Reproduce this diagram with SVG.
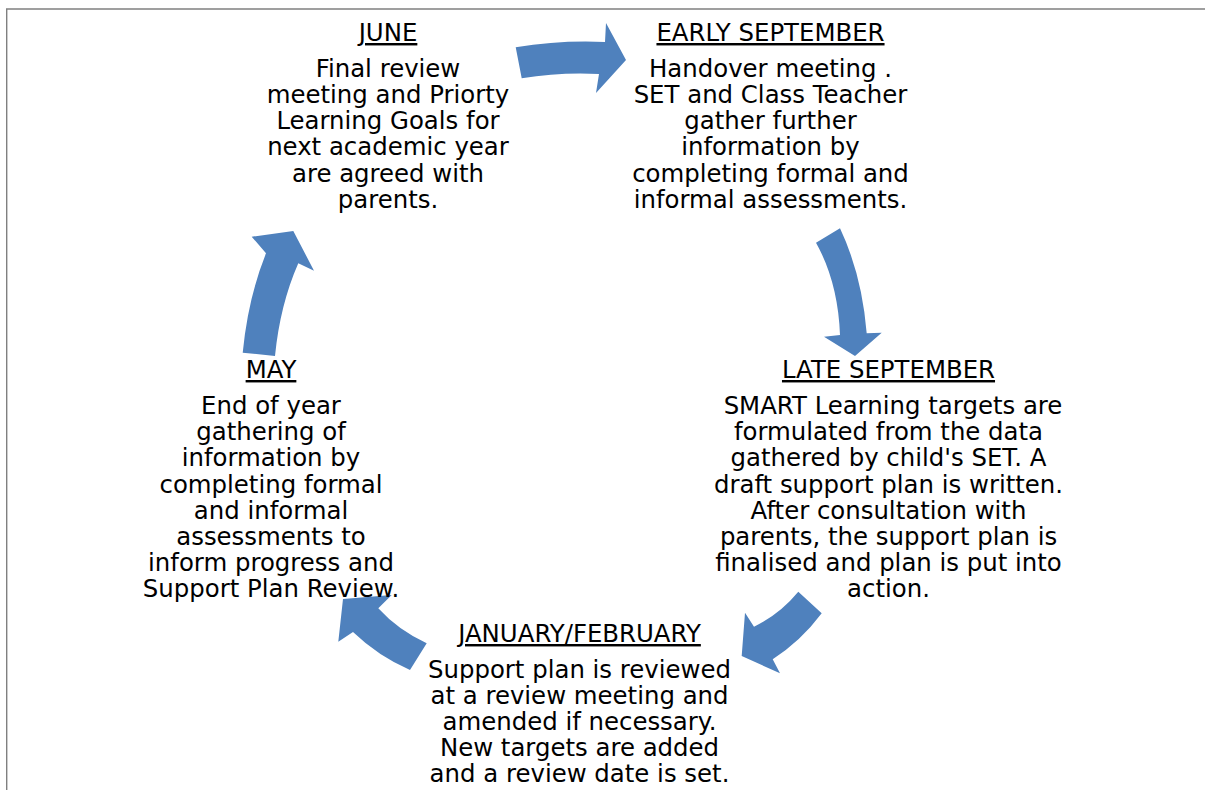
<svg xmlns="http://www.w3.org/2000/svg" width="1205" height="790" viewBox="0 0 1205 790">
  <style>
    text { font-family: "DejaVu Sans", Verdana, sans-serif; font-size: 24.4px; fill: #000; text-anchor: middle; }
    .title { text-decoration: underline; }
    .arrow { fill: #4F81BD; stroke: none; }
    .frame { stroke: #808080; stroke-width: 1.4; fill: none; }
  </style>
  <rect width="1205" height="790" fill="#fff"/>
  <path class="frame" d="M6.7,790 V9 H1205"/>

  <!-- cycle arrows -->
  <g id="connectors">
    <path class="arrow" d="M515.7,47.3 Q560,40 605,42 L606,23 L626,60 L596,93 L599,74 Q560,72 521.7,78.3 Z"/>
    <path class="arrow" d="M816,242.7 L840,228.3 Q862,275 866.7,333.3 L881.7,332.7 L855,356 L824,336.7 L840,335 Q838,282 816,242.7 Z"/>
    <path class="arrow" d="M798.3,591.7 L821.7,613.3 Q801,641 772.7,659.3 L780,673.3 L741.7,656 L745,612.7 L754,626.7 Q780,614 798.3,591.7 Z"/>
    <path class="arrow" d="M426.7,643.3 L410,670 Q378,656 353,632 L338.3,641.7 L343,599 L391.7,595 L378.3,608.3 Q398,630 426.7,643.3 Z"/>
    <path class="arrow" d="M242.7,352.7 Q248,298 266,253.3 L251.7,236.7 L293.3,231 L314,270.7 L298.3,263.3 Q280,305 275,356 Z"/>
  </g>

  <g id="june">
    <text class="title" x="388" y="41">JUNE</text>
    <text x="388" y="76.7">Final review</text>
    <text x="388" y="102.9">meeting and Priorty</text>
    <text x="388" y="129.1">Learning Goals for</text>
    <text x="388" y="155.3">next academic year</text>
    <text x="388" y="181.5">are agreed with</text>
    <text x="388" y="207.7">parents.</text>
  </g>

  <g id="early-september">
    <text class="title" x="770.5" y="41">EARLY SEPTEMBER</text>
    <text x="770.5" y="76.7">Handover meeting .</text>
    <text x="770.5" y="102.9">SET and Class Teacher</text>
    <text x="770.5" y="129.1">gather further</text>
    <text x="770.5" y="155.3">information by</text>
    <text x="770.5" y="181.5">completing formal and</text>
    <text x="770.5" y="207.7">informal assessments.</text>
  </g>

  <g id="late-september">
    <text class="title" x="888.5" y="378">LATE SEPTEMBER</text>
    <text x="893" y="414">SMART Learning targets are</text>
    <text x="888.5" y="440.2">formulated from the data</text>
    <text x="888.5" y="466.4">gathered by child's SET. A</text>
    <text x="888.5" y="492.6">draft support plan is written.</text>
    <text x="888.5" y="518.8">After consultation with</text>
    <text x="888.5" y="545">parents, the support plan is</text>
    <text x="888.5" y="571.2">finalised and plan is put into</text>
    <text x="888.5" y="597.4">action.</text>
  </g>

  <g id="january-february">
    <text class="title" x="579.5" y="642">JANUARY/FEBRUARY</text>
    <text x="579.5" y="677.5">Support plan is reviewed</text>
    <text x="579.5" y="703.7">at a review meeting and</text>
    <text x="579.5" y="729.9">amended if necessary.</text>
    <text x="579.5" y="756.1">New targets are added</text>
    <text x="579.5" y="782.3">and a review date is set.</text>
  </g>

  <g id="may">
    <text class="title" x="271" y="378">MAY</text>
    <text x="271" y="414">End of year</text>
    <text x="271" y="440.2">gathering of</text>
    <text x="271" y="466.4">information by</text>
    <text x="271" y="492.6">completing formal</text>
    <text x="271" y="518.8">and informal</text>
    <text x="271" y="545">assessments to</text>
    <text x="271" y="571.2">inform progress and</text>
    <text x="271" y="597.4">Support Plan Review.</text>
  </g>
</svg>
